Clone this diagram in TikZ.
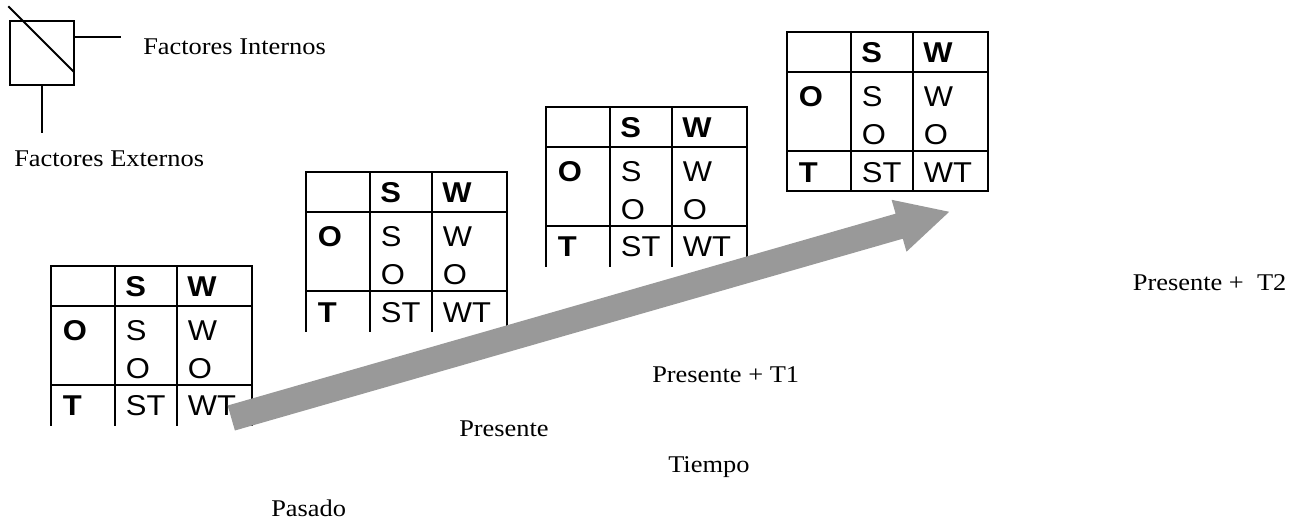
\documentclass[tikz,border=0pt]{standalone}
\usepackage{fontspec}
\newfontfamily\lblfont[FakeStretch=1.1]{Liberation Serif}
\newfontfamily\cellfont[FakeStretch=1.08]{Liberation Sans}
\definecolor{arrowgray}{RGB}{153,153,153}
\tikzset{
  lbl/.style={font=\lblfont\fontsize{18}{20}\selectfont, inner sep=0pt, anchor=base west},
  cell/.style={font=\cellfont\fontsize{21.5}{24}\selectfont, inner sep=0pt, anchor=base west},
  bcell/.style={font=\cellfont\bfseries\fontsize{21.5}{24}\selectfont, inner sep=0pt, anchor=base west},
  rule/.style={line width=1.5pt, line cap=rect},
  swot/.pic={
    \coordinate (-sw) at (0,159);
    \coordinate (-se) at (201,159);
    \draw[rule] (0,159) -- (0,0) -- (201,0) -- (201,159);
    \draw[rule] (0,40) -- (201,40);
    \draw[rule] (0,119) -- (201,119);
    \draw[rule] (64.5,0) -- (64.5,159);
    \draw[rule] (126.5,0) -- (126.5,159);
    \node[bcell] (-hs) at (74.5,30.5) {S};
    \node[bcell] (-hw) at (136.5,30.5) {W};
    \node[bcell] (-ro) at (12,74.5) {O};
    \node[cell] (-s1) at (75,74.5) {S};
    \node[cell] (-s2) at (75,112.5) {O};
    \node[cell] (-w1) at (137,74.5) {W};
    \node[cell] (-w2) at (137,112.5) {O};
    \node[bcell] (-rt) at (12,150) {T};
    \node[cell] (-st) at (75,150) {ST};
    \node[cell] (-wt) at (137,150) {WT};
  }
}
\begin{document}
\begin{tikzpicture}[x=0.75pt,y=-0.75pt]
\useasboundingbox (0,0) rectangle (1303,524);
% legend symbol
\draw[rule] (10,21) rectangle (74,85);
\draw[rule] (9,7) -- (73,71);
\draw[rule] (74,37) -- (120,37);
\draw[rule] (42,85) -- (42,132);
\node[lbl] (fi) at (143,55) {Factores Internos};
\node[lbl] (fe) at (14,166.5) {Factores Externos};
% tables
\pic (t1) at (50.7,265.7) {swot};
\pic (t2) at (305.7,172.3) {swot};
\pic (t3) at (545.7,106.7) {swot};
\pic (t4) at (786.7,32.3) {swot};
\draw[rule] (t4-sw) -- (t4-se);
% arrow
\fill[arrowgray] (227.7,405.5) -- (895.6,213.7) -- (891.6,199.8) -- (949.2,211.8)
  -- (906.5,251.7) -- (902.8,238.7) -- (234.9,430.5) -- cycle;
% labels
\node[lbl] (p2) at (1132.7,290.7) {Presente +\ \ T2};
\node[lbl] (p1) at (652,382) {Presente + T1};
\node[lbl] (p0) at (459,436.7) {Presente};
\node[lbl] (ti) at (668,472) {Tiempo};
\node[lbl] (pa) at (271,516) {Pasado};
\end{tikzpicture}
\end{document}
